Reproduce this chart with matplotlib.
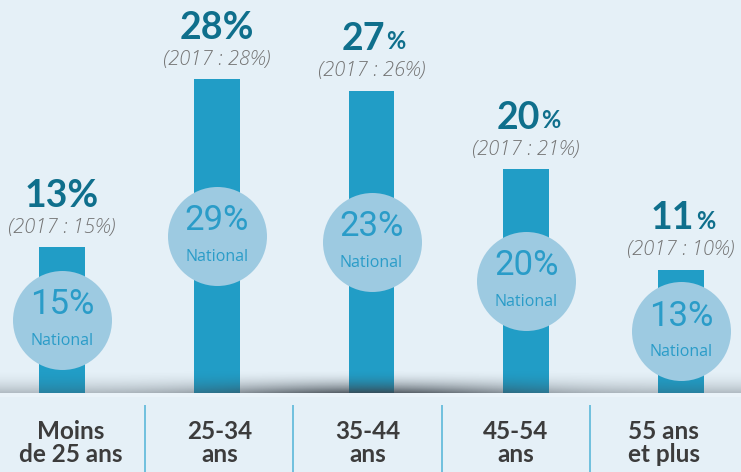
import matplotlib
matplotlib.use("Agg")
import matplotlib.pyplot as plt
import numpy as np

# répartition par âge (région) et repères nationaux
categories = ["Moins\nde 25 ans", "25-34\nans", "35-44\nans", "45-54\nans", "55 ans\net plus"]
region = [13, 28, 27, 20, 11]
region_2017 = [15, 28, 26, 21, 10]
national = [15, 29, 23, 20, 13]
small_pct = [False, False, True, True, True]

BG = "#e5f0f7"
BAR = "#219dc6"
CIRCLE = "#9dcae1"
CIRCLE_TXT = "#2a9cc8"
BIG_TXT = "#0f6f8c"
GREY_TXT = "#737373"
LABEL_TXT = "#3c3c3c"
SEP = "#5bb8da"

W, H = 741, 472
fig = plt.figure(figsize=(W / 100, H / 100), dpi=100)
fig.patch.set_facecolor(BG)

# main axes: bars, circles and values
ax = fig.add_axes([0, 0, 1, 1])
ax.set_facecolor("none")
step = 154.75
px_per_pct = 11.2
base_px = 393
x = np.arange(len(region))
ax.set_xlim(-62 / step, 4 + (W - 681) / step)
ylim = (-(H - base_px) / px_per_pct, base_px / px_per_pct)
ax.axis("off")

ax.bar(x, region, width=46 / step, color=BAR, zorder=2)

# floor shadow under the bars (dark at the floor, fading upwards)
ny, nx = 40, 300
gy = np.linspace(0, 1, ny)[:, None] ** 2
xx = np.linspace(0, 1, nx)[None, :]
gx = 0.3 + 0.55 * np.exp(-((xx - 0.5) / 0.2) ** 2)
shadow = np.zeros((ny, nx, 4))
shadow[..., :3] = np.array([0x3a, 0x42, 0x4a]) / 255
shadow[..., 3] = gy * gx
x0, x1 = ax.get_xlim()
ax.imshow(shadow, extent=(x0, x1, 0, 24 / px_per_pct), origin="upper", aspect="auto",
          interpolation="bilinear", zorder=3)
ax.set_xlim(x0, x1)
ax.set_ylim(*ylim)
ax.axhspan(-4 / px_per_pct, 0, color="#eaf3f9", zorder=3, lw=0)

# national circles centred at half bar height
mid = [v / 2 for v in region]
ax.scatter(x, mid, s=(2 * 49.5 * 0.72) ** 2, color=CIRCLE, zorder=4, lw=0)
for i in range(len(x)):
    ax.annotate(f"{national[i]}%", (x[i], mid[i]), xytext=(0, 11), textcoords="offset points",
                ha="center", va="center", fontsize=25, color=CIRCLE_TXT,
                family="Roboto", zorder=5)
    ax.annotate("National", (x[i], mid[i]), xytext=(0, -15), textcoords="offset points",
                ha="center", va="center", fontsize=11.5, color=CIRCLE_TXT,
                family="Open Sans", zorder=5)

# values above the bars
for i in range(len(x)):
    if small_pct[i]:
        t = ax.annotate(f"{region[i]}", (x[i], region[i]), xytext=(-6, 37), textcoords="offset points",
                        ha="center", va="center", fontsize=27, fontweight="bold",
                        color=BIG_TXT, family="Lato", zorder=5)
        ax.annotate("%", xy=(1, 0), xycoords=t, xytext=(1, 2), textcoords="offset points",
                    ha="left", va="bottom", fontsize=17, fontweight="bold",
                    color=BIG_TXT, family="Lato", zorder=5)
    else:
        ax.annotate(f"{region[i]}%", (x[i], region[i]), xytext=(0, 37), textcoords="offset points",
                    ha="center", va="center", fontsize=27, fontweight="bold",
                    color=BIG_TXT, family="Lato", zorder=5)
    ax.annotate(f"(2017 : {region_2017[i]}%)", (x[i], region[i]), xytext=(0, 14),
                textcoords="offset points", ha="center", va="center", fontsize=14.5,
                style="italic", fontweight="light", color=GREY_TXT, family="Open Sans", zorder=5)

# category labels and separators
lab = fig.add_axes([-3 / W, 0, 1, 1])
lab.set_facecolor("none")
lab.set_xlim(-0.5, 4.5)
lab.set_ylim(H, 0)
lab.axis("off")
lab.vlines([0.5, 1.5, 2.5, 3.5], 405, H, color=SEP, lw=1.2)
for i, c in enumerate(categories):
    lab.text(i, 443, c, ha="center", va="center", fontsize=17.5, fontweight="bold",
             color=LABEL_TXT, family="Lato", linespacing=1.0)

fig.savefig("out.png", dpi=100, facecolor=BG)
